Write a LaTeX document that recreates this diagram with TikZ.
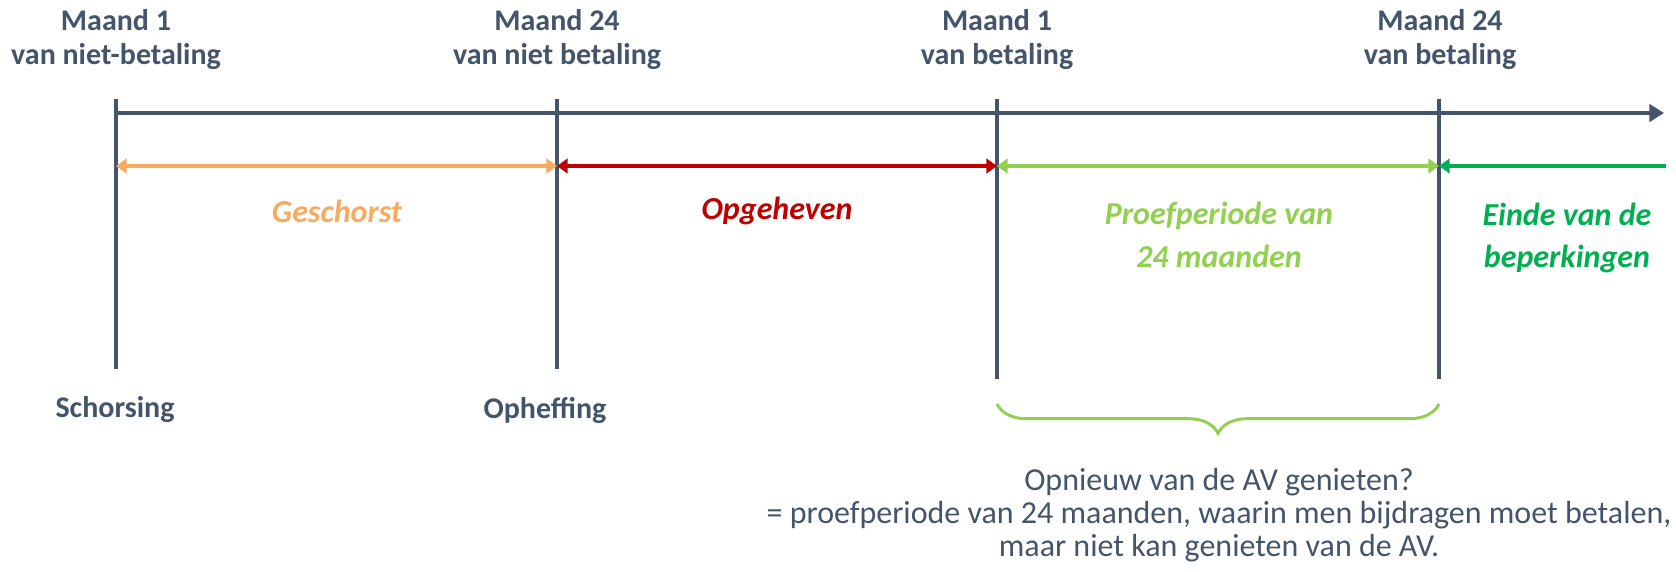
\documentclass[tikz,border=0pt]{standalone}
\usepackage{fontspec}
\setmainfont{Carlito}
\usetikzlibrary{arrows.meta,decorations.pathreplacing}

\definecolor{slate}{RGB}{68,84,106}
\definecolor{orangeper}{RGB}{248,170,96}
\definecolor{redper}{RGB}{192,0,0}
\definecolor{limeper}{RGB}{146,208,80}
\definecolor{greenper}{RGB}{0,176,80}

\tikzset{every picture/.style={line width=0.75pt}}
\tikzset{
  tick/.style={draw=slate,line width=3pt},
  axisline/.style={draw=slate,line width=3.4pt,-{Triangle[length=11pt,width=13pt]}},
  period/.style={line width=3.6pt,{Triangle[length=8pt,width=11pt]}-{Triangle[length=8pt,width=11pt]}},
  lbl/.style={font=\fontsize{22.5}{25.5}\selectfont\bfseries,text=slate,align=center,inner sep=0pt},
  perlbl/.style={font=\fontsize{24}{32}\selectfont\bfseries\itshape,align=center,inner sep=0pt},
}

\begin{document}
\begin{tikzpicture}[x=0.75pt,y=0.75pt,yscale=-1,xscale=1]
\useasboundingbox (0,0) rectangle (1676,571);

%Ticks
\coordinate (t1) at (116,99);  \coordinate (b1) at (116,369);
\coordinate (t2) at (557,99);  \coordinate (b2) at (557,369);
\coordinate (t3) at (997,99);  \coordinate (b3) at (997,379);
\coordinate (t4) at (1439,99); \coordinate (b4) at (1439,379);
\draw [tick] (t1) -- (b1) ;
\draw [tick] (t2) -- (b2) ;
\draw [tick] (t3) -- (b3) ;
\draw [tick] (t4) -- (b4) ;

%Time axis
\coordinate (a0) at (116,113);
\coordinate (a1) at (1664,113);
\draw [axisline] (a0) -- (a1) ;

%Periods
\coordinate (p1) at (116,166);
\coordinate (p2) at (557,166);
\coordinate (p3) at (997,166);
\coordinate (p4) at (1439,166);
\coordinate (p5) at (1666,166);
\draw [period,orangeper] (p1) -- (p2) ;
\draw [period,redper] (p2) -- (p3) ;
\draw [period,limeper] (p3) -- (p4) ;
\draw [line width=3.6pt,greenper,-{Triangle[length=8pt,width=11pt]}] (p5) -- (p4) ;

% Text Node
\node [lbl] (m1) at (116,40) {Maand 1\\van niet-betaling};
% Text Node
\node [lbl] (m24) at (557,40) {Maand 24\\van niet betaling};
% Text Node
\node [lbl] (b1m) at (997,40) {Maand 1\\van betaling};
% Text Node
\node [lbl] (b24m) at (1440,40) {Maand 24\\van betaling};

% Text Node
\node [perlbl,text=orangeper] (gesch) at (337,211) {Geschorst};
% Text Node
\node [perlbl,text=redper] (opgeh) at (777,211) {Opgeheven};
% Text Node
\node [perlbl,text=limeper] (proef) at (1219,235) {Proefperiode van\\24 maanden};
% Text Node
\node [perlbl,text=greenper] (einde) at (1567,238) {Einde van de\\beperkingen};

% Text Node
\node [lbl] (schors) at (115,410) {Schorsing};
% Text Node
\node [lbl] (ophef) at (545,410) {Opheffing};

%Brace
\coordinate (br0) at (997,404);
\coordinate (br1) at (1439,404);
\draw [limeper,line width=2.2pt,decorate,decoration={brace,mirror,amplitude=22pt}] (br0) -- (br1) ;

% Text Node
\node [font=\fontsize{24}{25}\selectfont,text=slate,align=center,inner sep=0pt] (uitleg) at (1219,515) {Opnieuw van de AV genieten?\\= proefperiode van 24 maanden, waarin men bijdragen moet betalen,\\maar niet kan genieten van de AV.};

\end{tikzpicture}
\end{document}
